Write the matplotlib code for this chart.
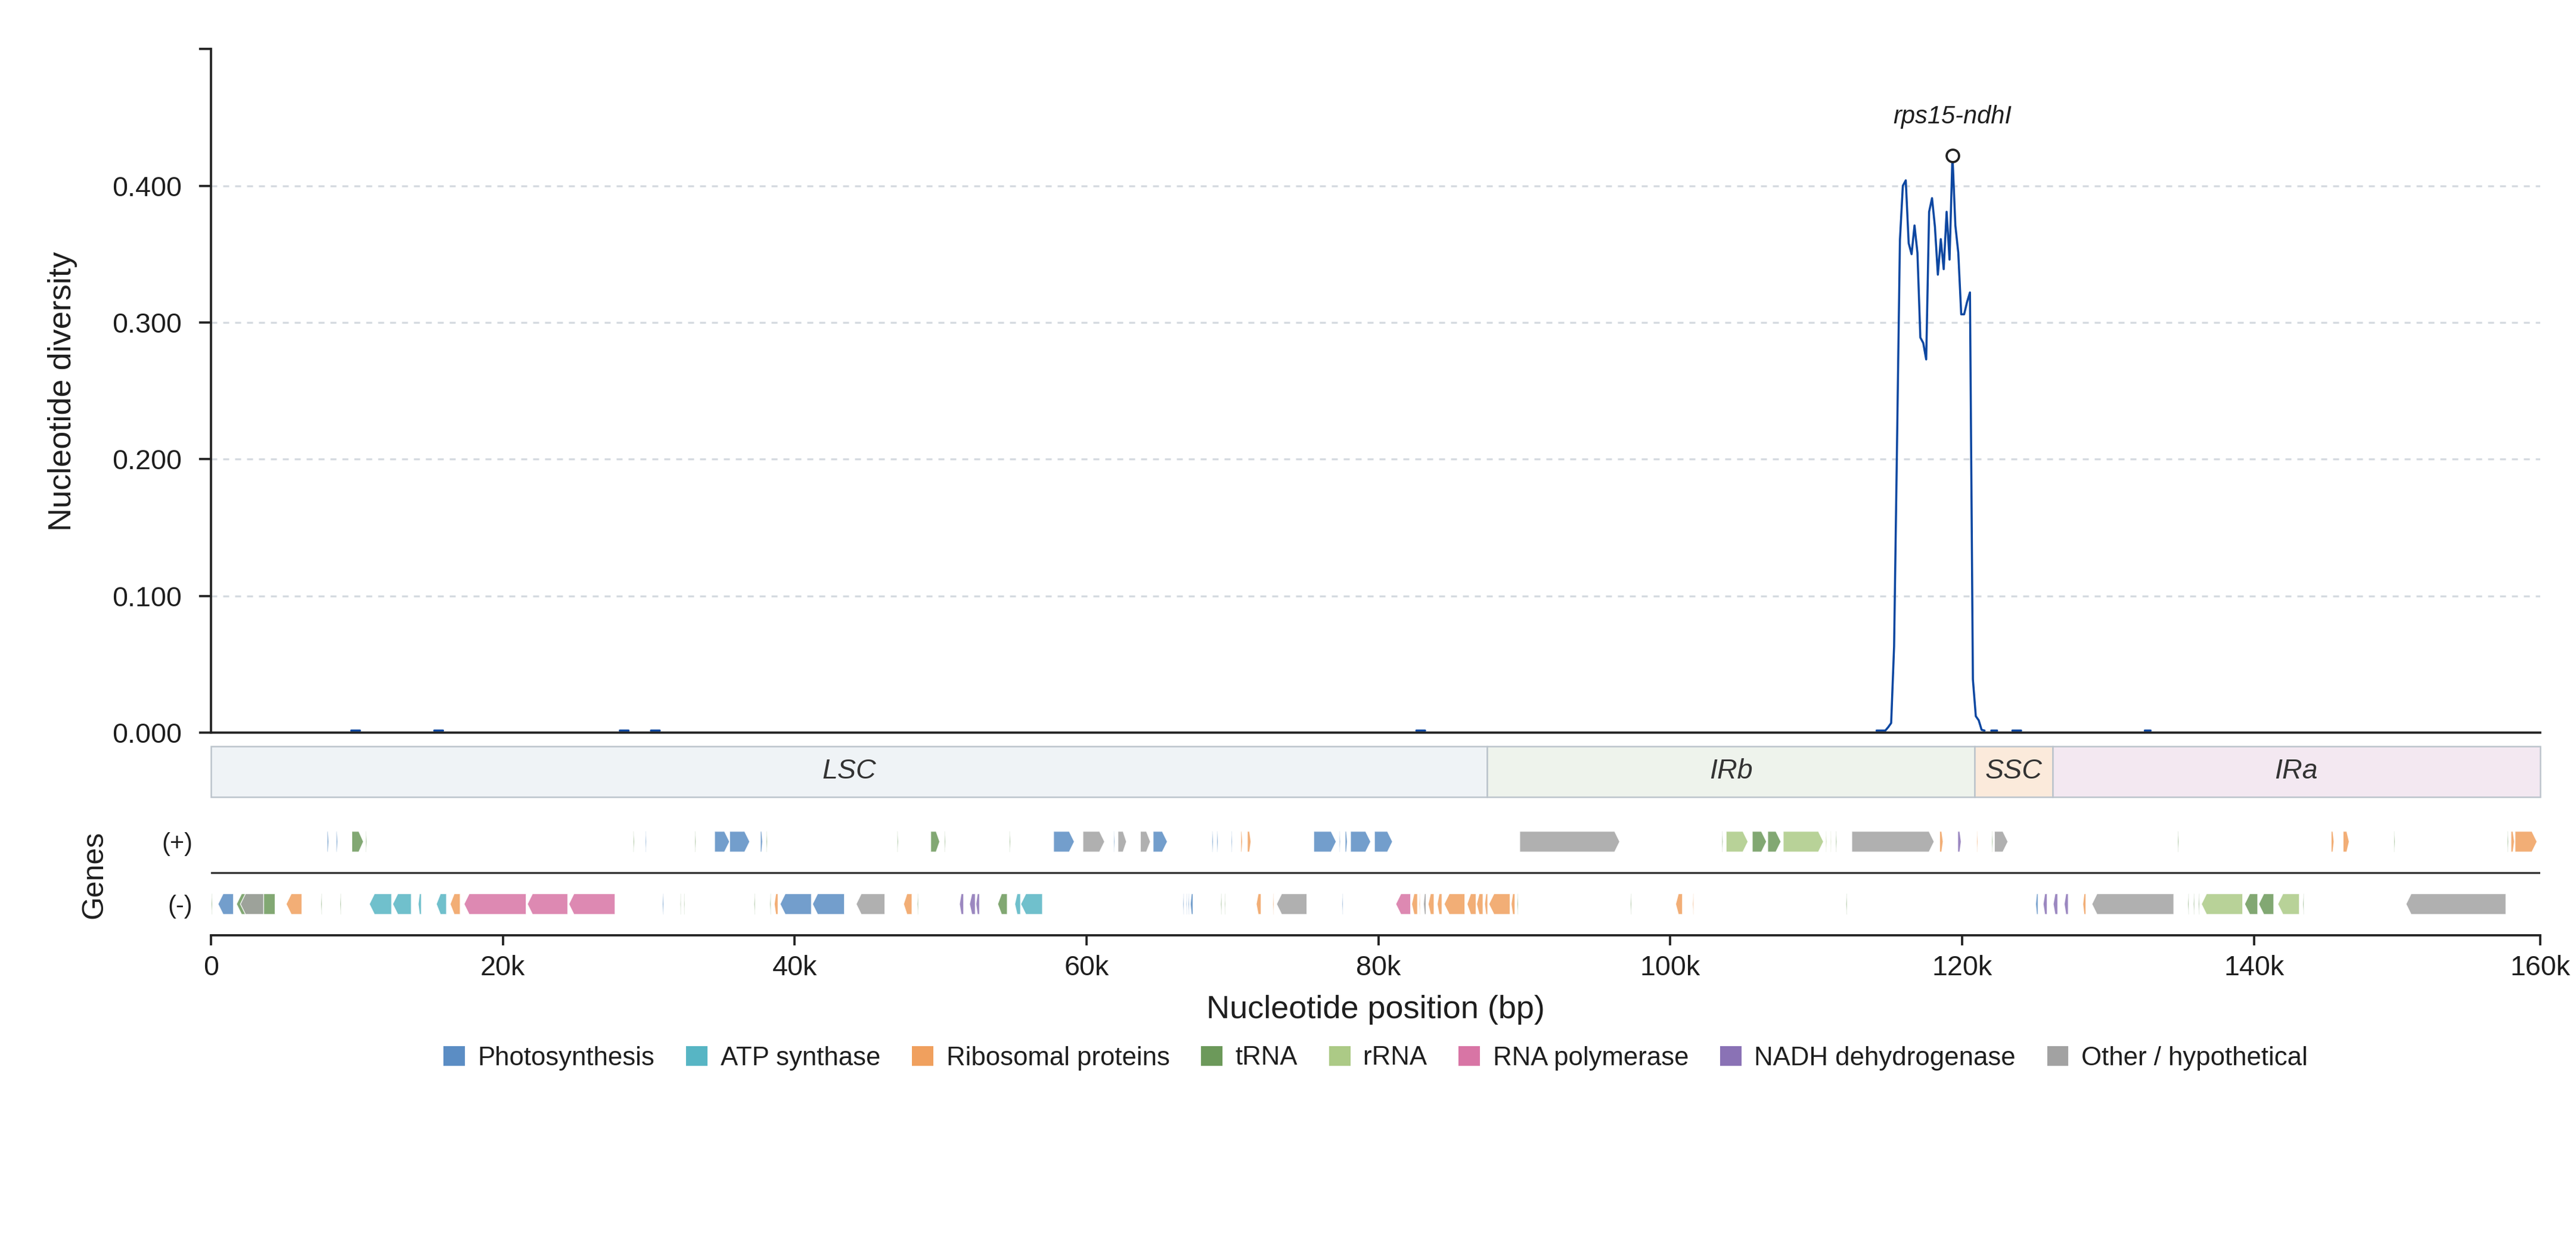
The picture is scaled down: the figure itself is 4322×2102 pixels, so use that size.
import numpy as np
import matplotlib
matplotlib.use("Agg")
import matplotlib.pyplot as plt
from matplotlib.patches import Polygon, Rectangle, Patch

plt.rcParams['font.family'] = ['Liberation Sans', 'DejaVu Sans']
plt.rcParams['text.color'] = '#1e1e1e'

W, H, DPI = 4322, 2102, 300

# ---------------- data ----------------
genome_length = 159620

region_names = ['LSC', 'IRb', 'SSC', 'IRa']
region_starts = [0, 87450, 120850, 126200]
region_ends = [87450, 120850, 126200, 159620]
region_colors = ['#eff3f6', '#eef3ec', '#fbeadb', '#f3e8f1']

# sliding-window nucleotide diversity (None = no window)
window_pos = [9610, 9810, 10010, 10210, 10410,
              15300, 15500, 15700, 15900, 16100,
              28015, 28215, 28415, 28615, 28815,
              30150, 30350, 30550, 30750, 30950,
              82600, 82800, 83000, 83200, 83400,
              114140, 114340, 114540, 114740, 114940, 115140, 115340, 115540,
              115740, 115940, 116140, 116340, 116540, 116740, 116940, 117140,
              117340, 117540, 117740, 117940, 118140, 118340, 118540, 118740,
              118940, 119140, 119340, 119540, 119740, 119940, 120140, 120340,
              120540, 120740, 120940, 121140, 121340, 121540, 121740,
              122000, 122200, 122400, 122600,
              123445, 123645, 123845, 124045, 124245,
              132520, 132720, 132920]
pi_values = [0.0015, 0.0015, 0.0015, 0.0015, None,
             0.0015, 0.0015, 0.0015, 0.0015, None,
             0.0015, 0.0015, 0.0015, 0.0015, None,
             0.0015, 0.0015, 0.0015, 0.0015, None,
             0.0015, 0.0015, 0.0015, 0.0015, None,
             0.0015, 0.0015, 0.0015, 0.0015, 0.004, 0.007, 0.063, 0.210,
             0.360, 0.400, 0.404, 0.358, 0.350, 0.371, 0.351, 0.289,
             0.285, 0.273, 0.381, 0.391, 0.370, 0.335, 0.361, 0.339,
             0.381, 0.346, 0.422, 0.371, 0.351, 0.306, 0.306, 0.315,
             0.322, 0.039, 0.012, 0.009, 0.002, 0.0015, None,
             0.0015, 0.0015, 0.0015, None,
             0.0015, 0.0015, 0.0015, 0.0015, None,
             0.0015, 0.0015, 0.0015]

peak_pos = 119340
peak_pi = 0.422
peak_label = 'rps15-ndhI'

cat_keys = ['PS', 'ATP', 'RP', 'TRNA', 'RRNA', 'RPO', 'NDH', 'OTH']
cat_labels = ['Photosynthesis', 'ATP synthase', 'Ribosomal proteins', 'tRNA', 'rRNA',
              'RNA polymerase', 'NADH dehydrogenase', 'Other / hypothetical']
cat_colors = ['#5b8dc4', '#57b5c4', '#f0a05e', '#6c995a', '#acca86',
              '#d875a5', '#8a72b5', '#a2a2a2']

gene_start = [
    # (+) strand
    7960, 8580, 9650, 10590, 28930, 29770, 33160, 34510, 35540, 37650,
    38050, 47020, 49320, 50260, 54710, 57740, 59750, 61860, 62150, 63690,
    64560, 68600, 68930, 69920, 70570, 71020, 75570, 77320, 77720, 78090,
    79730, 89685, 103540, 103830, 105620, 106680, 107740, 110650, 110980, 111340,
    112440, 118460, 119700, 121010, 122040, 122215, 134780, 145290, 146110, 149590,
    157370, 157610, 157890,
    # (-) strand
    10, 480, 1745, 2015, 5150, 7530, 8840, 10850, 12450, 14200,
    15440, 16390, 17340, 21680, 24520, 30930, 32150, 32400, 37210, 38305,
    38600, 39000, 41220, 44210, 47460, 48400, 51290, 51980, 52420, 53910,
    55080, 55490, 66600, 66820, 66960, 67110, 69190, 69450, 71630, 72760,
    73020, 77500, 81190, 82280, 82790, 83085, 83410, 84030, 84505, 86075,
    86730, 87280, 87570, 89100, 89500, 97265, 100370, 101535, 112040, 125040,
    125555, 126245, 127000, 128275, 128895, 135470, 135850, 136190, 136400, 139360,
    140325, 141635, 143355, 150420]
gene_end = [
    8070, 8680, 10450, 10670, 29010, 29850, 33240, 35540, 36920, 37800,
    38130, 47100, 49940, 50340, 54790, 59165, 61240, 61940, 62740, 64380,
    65540, 68690, 69020, 70000, 70690, 71270, 77110, 77400, 77870, 79475,
    80970, 96540, 103620, 105330, 106600, 107590, 110505, 110730, 111050, 111420,
    118085, 118700, 119940, 121090, 122120, 123145, 134860, 145490, 146530, 149670,
    157450, 157850, 159400,
    90, 1540, 4395, 3610, 6230, 7610, 8920, 12380, 13730, 14420,
    16140, 17080, 21600, 24450, 27690, 31020, 32220, 32470, 37290, 38385,
    38860, 41150, 43410, 46180, 48040, 48480, 51580, 52380, 52670, 54570,
    55480, 56980, 66680, 66890, 67040, 67300, 69270, 69520, 71965, 72840,
    75100, 77580, 82210, 82685, 82870, 83270, 83815, 84360, 85925, 86695,
    87170, 87495, 89025, 89360, 89580, 97345, 100840, 101615, 112120, 125210,
    125830, 126555, 127280, 128485, 134510, 135550, 135930, 136270, 139230, 140260,
    141360, 143115, 143435, 157270]
gene_strand = ['+'] * 53 + ['-'] * 74
gene_cat = [
    'PS', 'PS', 'TRNA', 'TRNA', 'TRNA', 'PS', 'TRNA', 'PS', 'PS', 'PS',
    'TRNA', 'TRNA', 'TRNA', 'TRNA', 'TRNA', 'PS', 'OTH', 'PS', 'OTH', 'OTH',
    'PS', 'PS', 'PS', 'PS', 'RP', 'RP', 'PS', 'PS', 'PS', 'PS',
    'PS', 'OTH', 'TRNA', 'RRNA', 'TRNA', 'TRNA', 'RRNA', 'RRNA', 'RRNA', 'TRNA',
    'OTH', 'RP', 'NDH', 'RP', 'TRNA', 'OTH', 'TRNA', 'RP', 'RP', 'TRNA',
    'TRNA', 'RP', 'RP',
    'TRNA', 'PS', 'TRNA', 'OTH', 'RP', 'TRNA', 'TRNA', 'ATP', 'ATP', 'ATP',
    'ATP', 'RP', 'RPO', 'RPO', 'RPO', 'PS', 'TRNA', 'TRNA', 'TRNA', 'TRNA',
    'RP', 'PS', 'PS', 'OTH', 'RP', 'TRNA', 'NDH', 'NDH', 'NDH', 'TRNA',
    'ATP', 'ATP', 'PS', 'PS', 'PS', 'PS', 'TRNA', 'TRNA', 'RP', 'RP',
    'OTH', 'PS', 'RPO', 'RP', 'RP', 'OTH', 'RP', 'RP', 'RP', 'RP',
    'RP', 'RP', 'RP', 'RP', 'TRNA', 'TRNA', 'RP', 'RP', 'TRNA', 'PS',
    'NDH', 'NDH', 'NDH', 'RP', 'OTH', 'TRNA', 'TRNA', 'TRNA', 'RRNA', 'TRNA',
    'TRNA', 'RRNA', 'TRNA', 'OTH']

x_ticks = [0, 20000, 40000, 60000, 80000, 100000, 120000, 140000, genome_length]
x_tick_labels = ['0', '20k', '40k', '60k', '80k', '100k', '120k', '140k', '160k']
y_ticks = [0.0, 0.1, 0.2, 0.3, 0.4, 0.5]
y_tick_labels = ['0.000', '0.100', '0.200', '0.300', '0.400', '']

# ---------------- figure ----------------
fig = plt.figure(figsize=(W / DPI, H / DPI), dpi=DPI)
L, R = 354 / W, 4262 / W
ax = fig.add_axes([L, 1 - 1229 / H, R - L, (1229 - 82.4) / H])
axr = fig.add_axes([L, 1 - 1337.3 / H, R - L, (1337.3 - 1251.7) / H])
axg = fig.add_axes([L, 1 - 1569 / H, R - L, (1569 - 1359.6) / H])

dark = '#222222'

# main diversity panel
pi_arr = np.array(pi_values, dtype=float)
ax.plot(window_pos, pi_arr, color='#0d47a1', lw=0.85, solid_capstyle='round',
        solid_joinstyle='round', zorder=2)
ax.plot([peak_pos], [peak_pi], 'o', ms=5.0, mfc='white', mec='#222222', mew=0.9,
        zorder=4, clip_on=False)
ax.annotate(peak_label, xy=(peak_pos, peak_pi), xytext=(0, 15.6),
            textcoords='offset points', ha='center', va='center',
            fontsize=10, style='italic', color='#1e1e1e')
for v in y_ticks[1:-1]:
    ax.axhline(v, color='#d5dae0', lw=0.8, linestyle=(0, (3, 3)), zorder=0)
ax.set_xlim(0, genome_length)
ax.set_ylim(0, 0.5)
ax.set_xticks([])
ax.set_yticks(y_ticks)
ax.set_yticklabels(y_tick_labels)
ax.tick_params(axis='y', length=4.8, width=0.9, pad=7, labelsize=11.2,
               color=dark, labelcolor='#1e1e1e')
for s in ['top', 'right']:
    ax.spines[s].set_visible(False)
for s in ['left', 'bottom']:
    ax.spines[s].set_color(dark)
    ax.spines[s].set_linewidth(0.9)

# region bar
for name, s, e, c in zip(region_names, region_starts, region_ends, region_colors):
    axr.add_patch(Rectangle((s, 0), e - s, 1, facecolor=c, edgecolor='#bcc4cc',
                            lw=0.6, clip_on=False))
    axr.text((s + e) / 2, 0.5, name, ha='center', va='center', style='italic',
             fontsize=11.2, color='#333333')
axr.set_xlim(0, genome_length)
axr.set_ylim(0, 1)
axr.axis('off')

# gene track
color_of = dict(zip(cat_keys, cat_colors))
half = 0.166
for s, e, st, c in zip(gene_start, gene_end, gene_strand, gene_cat):
    head = min(350, 0.4 * (e - s))
    if st == '+':
        yc = 0.5
        pts = [(s, yc - half), (e - head, yc - half), (e, yc), (e - head, yc + half), (s, yc + half)]
    else:
        yc = -0.5
        pts = [(e, yc - half), (s + head, yc - half), (s, yc), (s + head, yc + half), (e, yc + half)]
    axg.add_patch(Polygon(pts, closed=True, facecolor=color_of[c], edgecolor='white',
                          lw=0.35, alpha=0.85))
axg.axhline(0, color='#333333', lw=0.8)
axg.set_xlim(0, genome_length)
axg.set_ylim(-1, 1)
for s in ['top', 'right', 'left']:
    axg.spines[s].set_visible(False)
axg.spines['bottom'].set_color(dark)
axg.spines['bottom'].set_linewidth(0.9)
axg.set_xticks(x_ticks)
axg.set_xticklabels(x_tick_labels)
axg.tick_params(axis='x', length=4.1, width=0.9, pad=3.8, labelsize=11.2,
                color=dark, labelcolor='#1e1e1e')
axg.set_yticks([0.5, -0.5])
axg.set_yticklabels(['(+)', '(-)'])
axg.tick_params(axis='y', length=0, pad=7.4, labelsize=10, labelcolor='#1e1e1e')

# labels
fig.text(105 / W, 1 - 656 / H, 'Nucleotide diversity', rotation=90,
         ha='center', va='center', fontsize=13)
fig.text(158 / W, 1 - 1467 / H, 'Genes', rotation=90, ha='center', va='center',
         fontsize=12)
fig.text(2308 / W, 1 - 1694 / H, 'Nucleotide position (bp)', ha='center',
         va='center', fontsize=13)

handles = [Patch(facecolor=c, edgecolor='none', label=l) for l, c in zip(cat_labels, cat_colors)]
fig.legend(handles=handles, loc='center', bbox_to_anchor=(2308 / W, 1 - 1775 / H),
           ncol=8, frameon=False, fontsize=10.5, handlelength=0.82, handleheight=0.8,
           handletextpad=0.5, columnspacing=1.2, borderaxespad=0)

fig.savefig('out.png', dpi=DPI)
